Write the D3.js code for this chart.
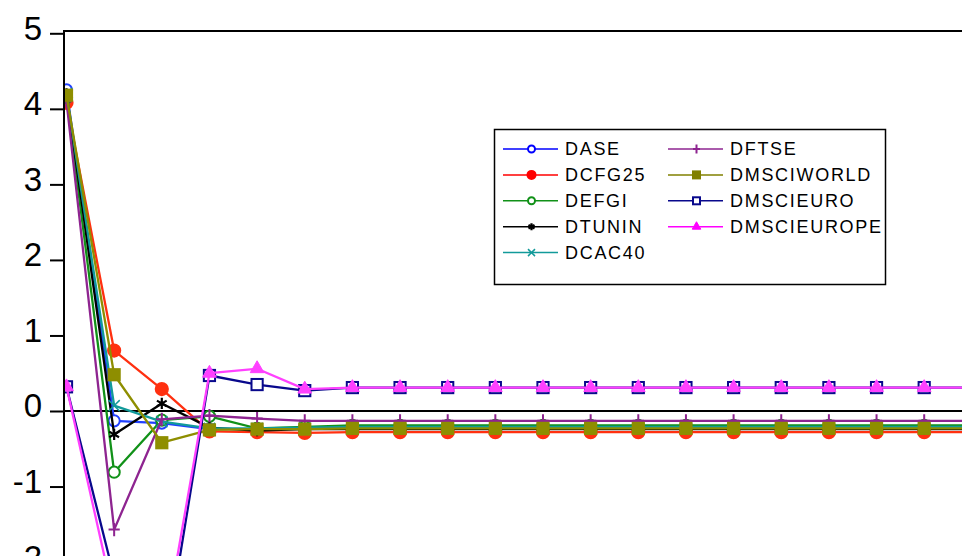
<!DOCTYPE html>
<html>
<head>
<meta charset="utf-8">
<script src="https://cdn.jsdelivr.net/npm/d3@7"></script>
<style>
  body { margin: 0; background: #fff; }
  text { font-family: "Liberation Sans", Arial, sans-serif; }
</style>
</head>
<body>
<svg id="chart" width="962" height="556"></svg>
<script>
// response periods and the nine series
const periods = [1, 2, 3, 4, 5, 6, 7, 8, 9, 10, 11, 12, 13, 14, 15, 16, 17, 18, 19, 20];
const seriesNames = ['DASE', 'DCFG25', 'DEFGI', 'DTUNIN', 'DCAC40', 'DFTSE', 'DMSCIWORLD', 'DMSCIEURO', 'DMSCIEUROPE'];

const dase = [4.25, -0.13, -0.16, -0.24, -0.24, -0.23, -0.22, -0.22, -0.22, -0.22, -0.22, -0.22, -0.22, -0.22, -0.22, -0.22, -0.22, -0.22, -0.22, -0.22];
const dcfg25 = [4.08, 0.80, 0.29, -0.27, -0.28, -0.29, -0.28, -0.28, -0.28, -0.28, -0.28, -0.28, -0.28, -0.28, -0.28, -0.28, -0.28, -0.28, -0.28, -0.28];
const defgi = [4.15, -0.81, -0.12, -0.07, -0.23, -0.21, -0.19, -0.19, -0.19, -0.19, -0.19, -0.19, -0.19, -0.19, -0.19, -0.19, -0.19, -0.19, -0.19, -0.19];
const dtunin = [4.2, -0.31, 0.10, -0.22, -0.26, -0.24, -0.24, -0.24, -0.24, -0.24, -0.24, -0.24, -0.24, -0.24, -0.24, -0.24, -0.24, -0.24, -0.24, -0.24];
const dcac40 = [4.2, 0.07, -0.14, -0.23, -0.23, -0.22, -0.21, -0.21, -0.21, -0.21, -0.21, -0.21, -0.21, -0.21, -0.21, -0.21, -0.21, -0.21, -0.21, -0.21];
const dftse = [4.1, -1.57, -0.11, -0.06, -0.10, -0.13, -0.13, -0.13, -0.13, -0.13, -0.13, -0.13, -0.13, -0.13, -0.13, -0.13, -0.13, -0.13, -0.13, -0.13];
const dmsciworld = [4.18, 0.48, -0.42, -0.25, -0.24, -0.24, -0.23, -0.23, -0.23, -0.23, -0.23, -0.23, -0.23, -0.23, -0.23, -0.23, -0.23, -0.23, -0.23, -0.23];
const dmscieuro = [0.32, -2.2, -3.4, 0.47, 0.35, 0.27, 0.31, 0.31, 0.31, 0.31, 0.31, 0.31, 0.31, 0.31, 0.31, 0.31, 0.31, 0.31, 0.31, 0.31];
const dmscieurope = [0.32, -2.5, -3.1, 0.50, 0.56, 0.29, 0.31, 0.31, 0.31, 0.31, 0.31, 0.31, 0.31, 0.31, 0.31, 0.31, 0.31, 0.31, 0.31, 0.31];

const yTicks = [-2, -1, 0, 1, 2, 3, 4, 5];

const values = [dase, dcfg25, defgi, dtunin, dcac40, dftse, dmsciworld, dmscieuro, dmscieurope];
const colors = ['#2040ff', '#ff3010', '#119118', '#000000', '#129a9a', '#8e2490', '#8e8e00', '#08088c', '#ff40ff'];
const legendColors = ['#0000ff', '#ff0000', '#119118', '#000000', '#129a9a', '#8e2490', '#808000', '#08088c', '#ff00ff'];
const markers = ['ocircle', 'fcircle', 'ocircle', 'star', 'cross', 'plus', 'fsquare', 'osquare', 'ftriangle'];

const svg = d3.select('#chart');
const plotLeft = 64, plotTop = 31;

const x = d3.scaleLinear().domain([1, 20]).range([66.5, 971.85]);
const y = d3.scaleLinear().domain([0, 5]).range([411, 33.3]);

svg.append('defs').append('clipPath').attr('id', 'plot-clip')
  .append('rect').attr('x', plotLeft).attr('y', plotTop).attr('width', 1000).attr('height', 600);

function drawMarker(g, type, color, s) {
  // s = half size of the marker
  if (type === 'ocircle' || type === 'fcircle') {
    g.append('circle').attr('r', type === 'fcircle' ? s + 0.5 : s)
      .attr('fill', type === 'fcircle' ? color : '#fff')
      .attr('stroke', color).attr('stroke-width', 2);
  } else if (type === 'fsquare' || type === 'osquare') {
    g.append('rect').attr('x', -s).attr('y', -s).attr('width', 2 * s).attr('height', 2 * s)
      .attr('fill', type === 'fsquare' ? color : '#fff')
      .attr('stroke', color).attr('stroke-width', 2);
  } else if (type === 'ftriangle') {
    g.append('path').attr('d', d3.symbol(d3.symbolTriangle, s * s * 2.6)())
      .attr('fill', color).attr('stroke', color).attr('stroke-width', 1);
  } else if (type === 'plus') {
    g.append('path').attr('d', `M0,${-s - 1}V${s + 1}M${-s},0H${s}`)
      .attr('stroke', color).attr('stroke-width', 2);
  } else if (type === 'cross') {
    g.append('path').attr('d', `M${-s},${-s}L${s},${s}M${-s},${s}L${s},${-s}`)
      .attr('stroke', color).attr('stroke-width', 1.5);
  } else if (type === 'star') {
    const a = s * 0.87, b = s * 0.5;
    g.append('path').attr('d', `M0,${-s}V${s}M${-a},${-b}L${a},${b}M${-a},${b}L${a},${-b}`)
      .attr('stroke', color).attr('stroke-width', 2.2);
  }
}

const plot = svg.append('g').attr('clip-path', 'url(#plot-clip)');

// zero line
plot.append('line').attr('x1', plotLeft).attr('x2', 962).attr('y1', y(0)).attr('y2', y(0))
  .attr('stroke', '#000').attr('stroke-width', 2);

const line = d3.line().x((d, i) => x(periods[i])).y(d => y(d));

values.forEach((vals, k) => {
  const g = plot.append('g');
  g.append('path').attr('d', line(vals)).attr('fill', 'none')
    .attr('stroke', colors[k]).attr('stroke-width', 2.3).attr('stroke-linejoin', 'round');
  vals.forEach((v, i) => {
    const m = g.append('g').attr('transform', `translate(${x(periods[i])},${y(v)})`);
    drawMarker(m, markers[k], colors[k], 5.6);
  });
});

// frame
svg.append('path').attr('d', `M${plotLeft},600V${plotTop}H1000`)
  .attr('fill', 'none').attr('stroke', '#000').attr('stroke-width', 2);

// y axis
const yAxis = svg.append('g').attr('transform', `translate(${plotLeft - 1},0)`)
  .call(d3.axisLeft(y).tickValues(yTicks).tickSize(13).tickPadding(8).tickFormat(d => String(d)));
yAxis.select('.domain').remove();
yAxis.selectAll('.tick line').attr('stroke-width', 2);
yAxis.selectAll('.tick text').attr('font-size', 33).attr('dy', '0.18em')
  .attr('fill', '#000').style('font-family', '"Liberation Sans", Arial, sans-serif');

// legend
const legend = svg.append('g');
legend.append('rect').attr('x', 494.5).attr('y', 129.5).attr('width', 391).attr('height', 155)
  .attr('fill', '#fff').attr('stroke', '#000').attr('stroke-width', 1.5);

seriesNames.forEach((name, k) => {
  const col = k < 5 ? 0 : 1;
  const row = k < 5 ? k : k - 5;
  const lx = col === 0 ? 503 : 668;
  const ly = 149 + row * 25.9;
  const g = legend.append('g');
  g.append('line').attr('x1', lx).attr('x2', lx + 55).attr('y1', ly).attr('y2', ly)
    .attr('stroke', legendColors[k]).attr('stroke-width', 1.5);
  const m = g.append('g').attr('transform', `translate(${lx + 28.5},${ly})`);
  drawMarker(m, markers[k], legendColors[k], 3.5);
  g.append('text').attr('x', lx + 62).attr('y', ly).attr('dy', '0.36em')
    .attr('font-size', 18).attr('letter-spacing', 1.7).attr('fill', '#000').text(name);
});
</script>
</body>
</html>
